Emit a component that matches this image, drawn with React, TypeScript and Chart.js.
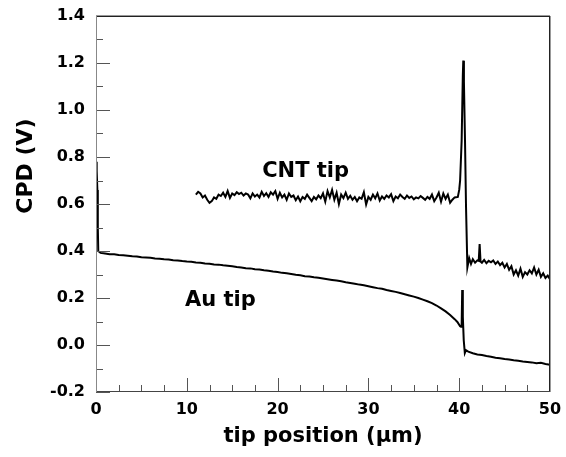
import { useEffect, useRef } from "react";
import { Chart, registerables } from "chart.js";

Chart.register(...registerables);

// ---- axis definitions ----
const xMin = 0;
const xMax = 50;
const yMin = -0.2;
const yMax = 1.4;
const xMajorTicks = [0, 10, 20, 30, 40, 50];
const xMinorTicks = [2.5, 5, 7.5, 12.5, 15, 17.5, 22.5, 25, 27.5, 32.5, 35, 37.5, 42.5, 45, 47.5];
const yMajorTicks = [-0.2, 0, 0.2, 0.4, 0.6, 0.8, 1.0, 1.2, 1.4];
const yMinorTicks = [-0.1, 0.1, 0.3, 0.5, 0.7, 0.9, 1.1, 1.3];

const xTitle = "tip position (\u03bcm)";
const yTitle = "CPD (V)";

// ---- series: Au tip ----
const auX = [
  0, 0.05, 0.1, 0.15, 0.2, 0.25, 0.5, 1, 1.5, 2, 2.5, 3, 3.5, 4, 4.5, 5, 5.5, 6, 6.5, 7, 7.5, 8, 8.5, 9, 9.5,
  10, 10.5, 11, 11.5, 12, 12.5, 13, 13.5, 14, 14.5, 15, 15.5, 16, 16.5, 17, 17.5, 18, 18.5, 19, 19.5,
  20, 20.5, 21, 21.5, 22, 22.5, 23, 23.5, 24, 24.5, 25, 25.5, 26, 26.5, 27, 27.5, 28, 28.5, 29, 29.5,
  30, 30.5, 31, 31.5, 32, 32.5, 33, 33.5, 34, 34.5, 35, 35.5, 36, 36.5, 37, 37.5, 38, 38.5, 39, 39.5,
  39.8, 40.1, 40.2, 40.27, 40.33, 40.4, 40.5, 40.62, 40.75, 41, 41.5, 42, 42.5, 43, 43.5, 44, 44.5,
  45, 45.5, 46, 46.5, 47, 47.5, 48, 48.5, 49, 49.5, 50,
];
const auY = [
  0.7, 0.78, 0.74, 0.66, 0.5, 0.4, 0.392, 0.389, 0.386, 0.386, 0.383, 0.382, 0.38, 0.378, 0.377, 0.373, 0.372, 0.371, 0.368, 0.367, 0.365, 0.364, 0.361, 0.36, 0.357,
  0.355, 0.354, 0.351, 0.35, 0.347, 0.346, 0.343, 0.342, 0.339, 0.337, 0.335, 0.332, 0.33, 0.327, 0.326, 0.322, 0.321, 0.318, 0.316, 0.313,
  0.311, 0.307, 0.305, 0.302, 0.299, 0.297, 0.293, 0.291, 0.288, 0.286, 0.283, 0.28, 0.277, 0.274, 0.271, 0.267, 0.264, 0.261, 0.257, 0.254,
  0.25, 0.246, 0.242, 0.239, 0.234, 0.23, 0.226, 0.221, 0.216, 0.211, 0.206, 0.2, 0.193, 0.186, 0.178, 0.168, 0.156, 0.143, 0.128, 0.11,
  0.098, 0.08, 0.078, 0.085, 0.234, 0.12, 0.02, -0.034, -0.022, -0.028, -0.035, -0.04, -0.043, -0.047, -0.05, -0.054, -0.056,
  -0.06, -0.062, -0.065, -0.067, -0.07, -0.072, -0.074, -0.078, -0.076, -0.081, -0.084,
];

// ---- series: CNT tip ----
const cntX = [
  11, 11.25, 11.5, 11.75, 12, 12.25, 12.5, 12.75, 13, 13.25, 13.5, 13.75, 14, 14.25, 14.5, 14.75,
  15, 15.25, 15.5, 15.75, 16, 16.25, 16.5, 16.75, 17, 17.25, 17.5, 17.75, 18, 18.25, 18.5, 18.75,
  19, 19.25, 19.5, 19.75, 20, 20.25, 20.5, 20.75, 21, 21.25, 21.5, 21.75, 22, 22.25, 22.5, 22.75,
  23, 23.25, 23.5, 23.75, 24, 24.25, 24.5, 24.75, 25, 25.25, 25.5, 25.75, 26, 26.25, 26.5, 26.75,
  27, 27.25, 27.5, 27.75, 28, 28.25, 28.5, 28.75, 29, 29.25, 29.5, 29.75, 30, 30.25, 30.5, 30.75,
  31, 31.25, 31.5, 31.75, 32, 32.25, 32.5, 32.75, 33, 33.25, 33.5, 33.75, 34, 34.25, 34.5, 34.75,
  35, 35.25, 35.5, 35.75, 36, 36.25, 36.5, 36.75, 37, 37.25, 37.5, 37.75, 38, 38.25, 38.5, 38.75,
  39, 39.25, 39.5, 39.85, 40, 40.1, 40.27, 40.4, 40.45, 40.52, 40.64, 40.75, 40.9, 41.1, 41.3,
  41.5, 41.75, 42, 42.15, 42.25, 42.35, 42.5, 42.75, 43, 43.25, 43.5, 43.75, 44, 44.25, 44.5, 44.75,
  45, 45.25, 45.5, 45.75, 46, 46.25, 46.5, 46.75, 47, 47.25, 47.5, 47.75, 48, 48.25, 48.5, 48.75,
  49, 49.25, 49.5, 49.75, 50,
];
const cntY = [
  0.64, 0.652, 0.645, 0.628, 0.636, 0.618, 0.605, 0.612, 0.628, 0.622, 0.64, 0.634, 0.648, 0.63, 0.655, 0.626,
  0.645, 0.638, 0.65, 0.642, 0.648, 0.636, 0.645, 0.64, 0.624, 0.645, 0.632, 0.64, 0.628, 0.652, 0.634, 0.646,
  0.63, 0.65, 0.64, 0.655, 0.622, 0.648, 0.628, 0.64, 0.618, 0.645, 0.63, 0.636, 0.616, 0.632, 0.612, 0.63,
  0.622, 0.64, 0.626, 0.612, 0.63, 0.62, 0.636, 0.625, 0.645, 0.61, 0.655, 0.628, 0.66, 0.618, 0.648, 0.6,
  0.64, 0.625, 0.648, 0.622, 0.635, 0.618, 0.63, 0.612, 0.628, 0.622, 0.65, 0.598, 0.63, 0.618, 0.64, 0.624,
  0.645, 0.615, 0.632, 0.622, 0.636, 0.628, 0.642, 0.612, 0.632, 0.624, 0.64, 0.63, 0.622, 0.636, 0.626, 0.632,
  0.62, 0.628, 0.624, 0.634, 0.626, 0.618, 0.63, 0.622, 0.64, 0.612, 0.628, 0.648, 0.61, 0.645, 0.622, 0.64,
  0.605, 0.618, 0.628, 0.63, 0.66, 0.7, 0.87, 1.15, 1.21, 1.12, 0.87, 0.59, 0.33, 0.37, 0.345,
  0.365, 0.35, 0.36, 0.358, 0.43, 0.355, 0.35, 0.362, 0.348, 0.358, 0.352, 0.36, 0.345, 0.355, 0.34, 0.35,
  0.33, 0.345, 0.32, 0.335, 0.3, 0.318, 0.295, 0.325, 0.29, 0.31, 0.3, 0.318, 0.305, 0.33, 0.3, 0.32,
  0.29, 0.305, 0.285, 0.295, 0.28,
];

// ---- in-plot labels (data coordinates of the text's left baseline) ----
const cntLabel = { text: "CNT tip", x: 18.3, y: 0.715 };
const auLabel = { text: "Au tip", x: 9.8, y: 0.166 };

const FONT = '"DejaVu Sans", "Liberation Sans", Arial, sans-serif';

const framePlugin = {
  id: "frameTicks",
  afterDraw(chart: any) {
    const { ctx, chartArea: a, scales } = chart;
    const xs = scales.x;
    const ys = scales.y;
    ctx.save();
    const L = Math.round(a.left);
    const R = Math.round(a.right);
    const T = Math.round(a.top);
    const B = Math.round(a.bottom);

    // inward tick marks
    ctx.fillStyle = "#555";
    for (const v of yMajorTicks) {
      const p = Math.round(ys.getPixelForValue(v));
      ctx.fillRect(L, p, 14, 1);
    }
    for (const v of yMinorTicks) {
      const p = Math.round(ys.getPixelForValue(v));
      ctx.fillRect(L, p, 7, 1);
    }
    for (const v of xMajorTicks) {
      const p = Math.round(xs.getPixelForValue(v));
      ctx.fillRect(p, B - 14, 1, 14);
    }
    for (const v of xMinorTicks) {
      const p = Math.round(xs.getPixelForValue(v));
      ctx.fillRect(p, B - 7, 1, 7);
    }

    // frame
    ctx.fillStyle = "#999";
    ctx.fillRect(L, T - 1, R - L, 1);
    ctx.fillRect(R, T, 1, B - T);
    ctx.fillStyle = "#222";
    ctx.fillRect(L, T, R - L, 1); // top
    ctx.fillRect(R - 1, T, 1, B - T); // right
    ctx.fillStyle = "#444";
    ctx.fillRect(L, B - 1, R - L, 1); // bottom
    ctx.fillStyle = "#888";
    ctx.fillRect(L, T, 1, B - T); // left

    // annotations
    ctx.fillStyle = "#000";
    ctx.textAlign = "left";
    ctx.textBaseline = "alphabetic";
    ctx.font = `bold 21px ${FONT}`;
    ctx.fillText(cntLabel.text, xs.getPixelForValue(cntLabel.x), ys.getPixelForValue(cntLabel.y));
    ctx.fillText(auLabel.text, xs.getPixelForValue(auLabel.x), ys.getPixelForValue(auLabel.y));

    // y-axis title
    ctx.translate(26, 166);
    ctx.rotate(-Math.PI / 2);
    ctx.textAlign = "center";
    ctx.textBaseline = "middle";
    ctx.font = `bold 22px ${FONT}`;
    ctx.fillText(yTitle, 0, 0);
    ctx.restore();
  },
};

export default function App() {
  const canvasRef = useRef<HTMLCanvasElement | null>(null);

  useEffect(() => {
    const canvas = canvasRef.current;
    if (!canvas) return;
    const toPts = (xs: number[], ys: number[]) => xs.map((x, i) => ({ x, y: ys[i] }));
    const chart = new Chart(canvas, {
      type: "line",
      data: {
        datasets: [
          {
            label: "Au tip",
            data: toPts(auX, auY),
            borderColor: "#000",
            borderWidth: 2,
            pointRadius: 0,
            tension: 0,
            fill: false,
          },
          {
            label: "CNT tip",
            data: toPts(cntX, cntY),
            borderColor: "#000",
            borderWidth: 2,
            pointRadius: 0,
            tension: 0,
            fill: false,
          },
        ],
      },
      options: {
        responsive: false,
        animation: false,
        events: [],
        layout: { padding: { left: 0, right: 16, top: 16, bottom: 0 } },
        plugins: {
          legend: { display: false },
          tooltip: { enabled: false },
          title: { display: false },
        },
        scales: {
          x: {
            type: "linear",
            min: xMin,
            max: xMax,
            grid: {
              display: true,
              drawOnChartArea: false,
              drawTicks: true,
              tickLength: 8,
              color: "rgba(0,0,0,0)",
            },
            border: { display: false },
            ticks: {
              stepSize: 10,
              maxRotation: 0,
              autoSkip: false,
              padding: 0,
              color: "#000",
              font: { family: FONT, weight: "bold", size: 16 },
            },
            title: {
              display: true,
              text: xTitle,
              color: "#000",
              font: { family: FONT, weight: "bold", size: 21 },
              padding: { top: 0, bottom: 8 },
            },
            afterFit: (s: any) => {
              s.height = 65;
            },
          },
          y: {
            type: "linear",
            min: yMin,
            max: yMax,
            grid: {
              display: true,
              drawOnChartArea: false,
              drawTicks: true,
              tickLength: 11,
              color: "rgba(0,0,0,0)",
            },
            border: { display: false },
            ticks: {
              stepSize: 0.2,
              autoSkip: false,
              padding: 0,
              color: "#000",
              font: { family: FONT, weight: "bold", size: 16 },
              callback: (v: any) => (Math.abs(Number(v)) < 1e-9 ? 0 : Number(v)).toFixed(1),
            },
            afterFit: (s: any) => {
              s.width = 96;
            },
          },
        },
      },
      plugins: [framePlugin],
    });
    return () => chart.destroy();
  }, []);

  return (
    <div style={{ position: "absolute", left: 0, top: 0, width: 566, height: 457, background: "#fff" }}>
      <canvas ref={canvasRef} width={566} height={457} />
    </div>
  );
}
